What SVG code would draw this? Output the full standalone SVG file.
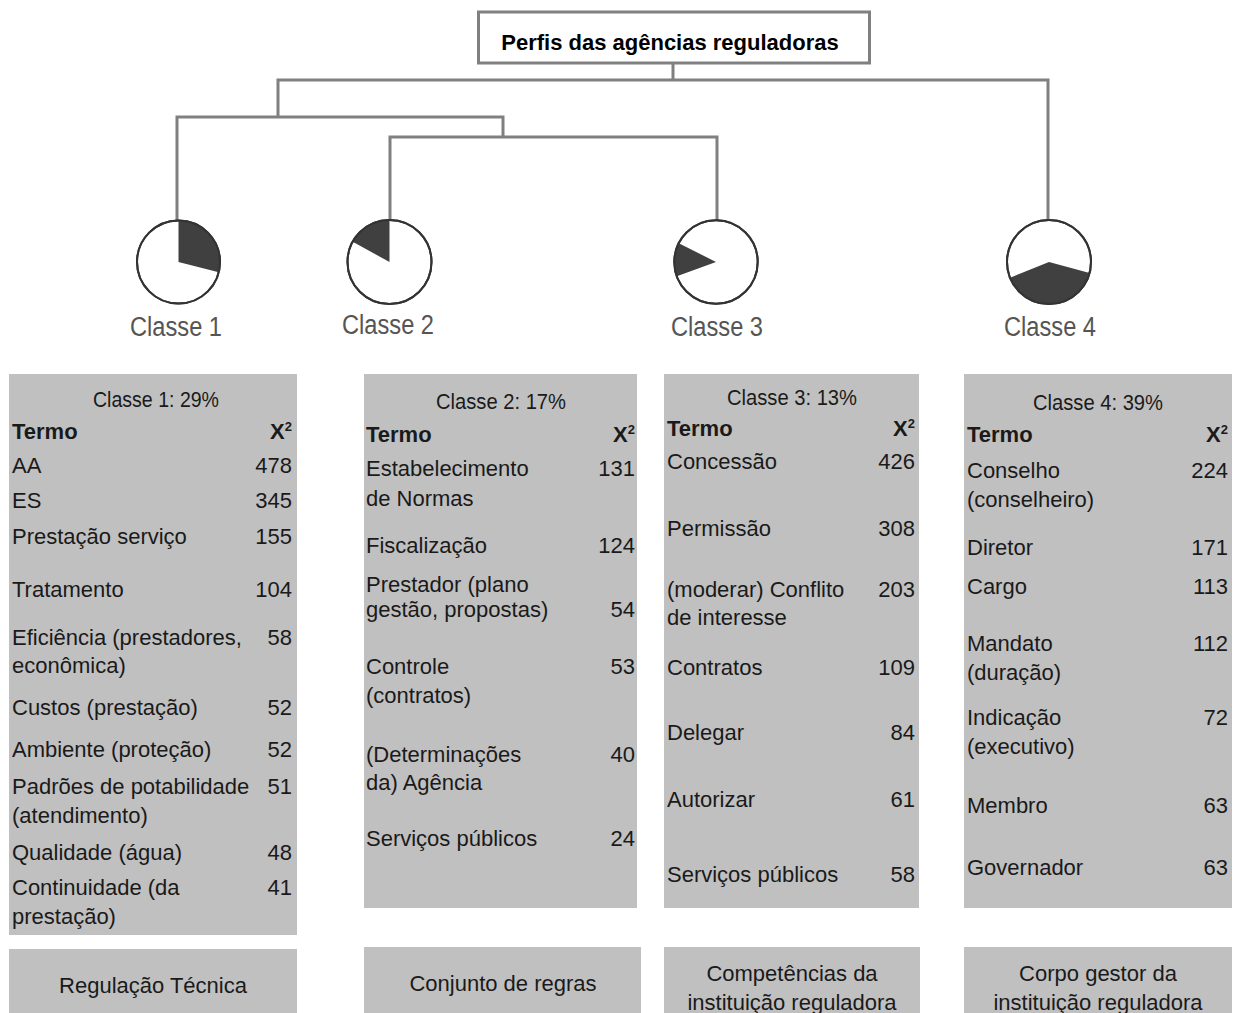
<svg xmlns="http://www.w3.org/2000/svg" width="1234" height="1013" viewBox="0 0 1234 1013">
<style>
.t{font-family:"Liberation Sans",Arial,sans-serif;font-size:22px;fill:#1a1a1a}
.n{text-anchor:end}
.m{text-anchor:middle}
.b{font-weight:bold}
.box{fill:#c0c0c0}
.conn{stroke:#808080;stroke-width:3;fill:none}
.disk{fill:#fff;stroke:#333;stroke-width:2}
.ring{fill:none;stroke:#333;stroke-width:2}
.wedge{fill:#404040}
.cl{font-family:"Liberation Sans",Arial,sans-serif;font-size:27px;fill:#555;text-anchor:middle}
.title{font-family:"Liberation Sans",Arial,sans-serif;font-size:22px;font-weight:bold;fill:#000;text-anchor:middle}
</style>
<rect x="0" y="0" width="1234" height="1013" fill="#fff"/>
<g id="connectors">
<path class="conn" d="M673,63 V80"/>
<path class="conn" d="M278,116 V80 H1048 V221"/>
<path class="conn" d="M177,221 V117 H503 V137"/>
<path class="conn" d="M390,221 V137 H717 V221"/>
</g>
<g id="root">
<rect x="478.5" y="12" width="391" height="51" fill="#fff" stroke="#808080" stroke-width="3"/>
<text class="title" x="670" y="50">Perfis das agências reguladoras</text>
</g>
<g id="pie1">
<circle class="disk" cx="178.5" cy="262" r="41.5"/>
<path class="wedge" d="M178.5,262 L178.5,220.5 A41.5,41.5 0 0 1 218.7,272.3 Z"/>
<circle class="ring" cx="178.5" cy="262" r="41.5"/>
<text class="cl" x="176" y="336" textLength="92" lengthAdjust="spacingAndGlyphs">Classe 1</text>
</g>
<g id="pie2">
<circle class="disk" cx="389.5" cy="262" r="42"/>
<path class="wedge" d="M389.5,262 L389.5,220 A42,42 0 0 0 352.7,241.8 Z"/>
<circle class="ring" cx="389.5" cy="262" r="42"/>
<text class="cl" x="388" y="334" textLength="92" lengthAdjust="spacingAndGlyphs">Classe 2</text>
</g>
<g id="pie3">
<circle class="disk" cx="716" cy="262" r="41.7"/>
<path class="wedge" d="M716,262 L678.8,243.2 A41.7,41.7 0 0 0 676.8,276.3 Z"/>
<circle class="ring" cx="716" cy="262" r="41.7"/>
<text class="cl" x="717" y="336" textLength="92" lengthAdjust="spacingAndGlyphs">Classe 3</text>
</g>
<g id="pie4">
<circle class="disk" cx="1049" cy="262" r="42"/>
<path class="wedge" d="M1049,262 L1089.6,272.9 A42,42 0 0 1 1010.1,277.7 Z"/>
<circle class="ring" cx="1049" cy="262" r="42"/>
<text class="cl" x="1050" y="336" textLength="92" lengthAdjust="spacingAndGlyphs">Classe 4</text>
</g>
<g id="table1">
<rect class="box" x="9" y="374" width="288" height="561"/>
<text class="t m" x="156" y="407" textLength="126" lengthAdjust="spacingAndGlyphs">Classe 1: 29%</text>
<text class="t b" x="12" y="439">Termo</text>
<text class="t b n" x="292" y="439">X<tspan dy="-8" font-size="13">2</tspan></text>
<text class="t" x="12" y="473">AA</text><text class="t n" x="292" y="473">478</text>
<text class="t" x="12" y="508">ES</text><text class="t n" x="292" y="508">345</text>
<text class="t" x="12" y="544">Prestação serviço</text><text class="t n" x="292" y="544">155</text>
<text class="t" x="12" y="597">Tratamento</text><text class="t n" x="292" y="597">104</text>
<text class="t" x="12" y="645">Eficiência (prestadores,</text><text class="t n" x="292" y="645">58</text>
<text class="t" x="12" y="673">econômica)</text>
<text class="t" x="12" y="715">Custos (prestação)</text><text class="t n" x="292" y="715">52</text>
<text class="t" x="12" y="757">Ambiente (proteção)</text><text class="t n" x="292" y="757">52</text>
<text class="t" x="12" y="794">Padrões de potabilidade</text><text class="t n" x="292" y="794">51</text>
<text class="t" x="12" y="823">(atendimento)</text>
<text class="t" x="12" y="860">Qualidade (água)</text><text class="t n" x="292" y="860">48</text>
<text class="t" x="12" y="895">Continuidade (da</text><text class="t n" x="292" y="895">41</text>
<text class="t" x="12" y="924">prestação)</text>
</g>
<g id="label1">
<rect class="box" x="9" y="949" width="288" height="70"/>
<text class="t m" x="153" y="993">Regulação Técnica</text>
</g>
<g id="table2">
<rect class="box" x="364" y="374" width="273" height="534"/>
<text class="t m" x="501" y="409" textLength="130" lengthAdjust="spacingAndGlyphs">Classe 2: 17%</text>
<text class="t b" x="366" y="442">Termo</text>
<text class="t b n" x="635" y="442">X<tspan dy="-8" font-size="13">2</tspan></text>
<text class="t" x="366" y="476">Estabelecimento</text><text class="t n" x="635" y="476">131</text>
<text class="t" x="366" y="506">de Normas</text>
<text class="t" x="366" y="553">Fiscalização</text><text class="t n" x="635" y="553">124</text>
<text class="t" x="366" y="592">Prestador (plano</text>
<text class="t" x="366" y="617">gestão, propostas)</text><text class="t n" x="635" y="617">54</text>
<text class="t" x="366" y="674">Controle</text><text class="t n" x="635" y="674">53</text>
<text class="t" x="366" y="703">(contratos)</text>
<text class="t" x="366" y="762">(Determinações</text><text class="t n" x="635" y="762">40</text>
<text class="t" x="366" y="790">da) Agência</text>
<text class="t" x="366" y="846">Serviços públicos</text><text class="t n" x="635" y="846">24</text>
</g>
<g id="label2">
<rect class="box" x="364" y="947" width="277" height="70"/>
<text class="t m" x="503" y="991">Conjunto de regras</text>
</g>
<g id="table3">
<rect class="box" x="664" y="374" width="255" height="534"/>
<text class="t m" x="792" y="405" textLength="130" lengthAdjust="spacingAndGlyphs">Classe 3: 13%</text>
<text class="t b" x="667" y="436">Termo</text>
<text class="t b n" x="915" y="436">X<tspan dy="-8" font-size="13">2</tspan></text>
<text class="t" x="667" y="469">Concessão</text><text class="t n" x="915" y="469">426</text>
<text class="t" x="667" y="536">Permissão</text><text class="t n" x="915" y="536">308</text>
<text class="t" x="667" y="597">(moderar) Conflito</text><text class="t n" x="915" y="597">203</text>
<text class="t" x="667" y="625">de interesse</text>
<text class="t" x="667" y="675">Contratos</text><text class="t n" x="915" y="675">109</text>
<text class="t" x="667" y="740">Delegar</text><text class="t n" x="915" y="740">84</text>
<text class="t" x="667" y="807">Autorizar</text><text class="t n" x="915" y="807">61</text>
<text class="t" x="667" y="882">Serviços públicos</text><text class="t n" x="915" y="882">58</text>
</g>
<g id="label3">
<rect class="box" x="664" y="947" width="256" height="70"/>
<text class="t m" x="792" y="981">Competências da</text>
<text class="t m" x="792" y="1010">instituição reguladora</text>
</g>
<g id="table4">
<rect class="box" x="964" y="374" width="268" height="534"/>
<text class="t m" x="1098" y="410" textLength="130" lengthAdjust="spacingAndGlyphs">Classe 4: 39%</text>
<text class="t b" x="967" y="442">Termo</text>
<text class="t b n" x="1228" y="442">X<tspan dy="-8" font-size="13">2</tspan></text>
<text class="t" x="967" y="478">Conselho</text><text class="t n" x="1228" y="478">224</text>
<text class="t" x="967" y="507">(conselheiro)</text>
<text class="t" x="967" y="555">Diretor</text><text class="t n" x="1228" y="555">171</text>
<text class="t" x="967" y="594">Cargo</text><text class="t n" x="1228" y="594">113</text>
<text class="t" x="967" y="651">Mandato</text><text class="t n" x="1228" y="651">112</text>
<text class="t" x="967" y="680">(duração)</text>
<text class="t" x="967" y="725">Indicação</text><text class="t n" x="1228" y="725">72</text>
<text class="t" x="967" y="754">(executivo)</text>
<text class="t" x="967" y="813">Membro</text><text class="t n" x="1228" y="813">63</text>
<text class="t" x="967" y="875">Governador</text><text class="t n" x="1228" y="875">63</text>
</g>
<g id="label4">
<rect class="box" x="964" y="947" width="268" height="70"/>
<text class="t m" x="1098" y="981">Corpo gestor da</text>
<text class="t m" x="1098" y="1010">instituição reguladora</text>
</g>
</svg>
